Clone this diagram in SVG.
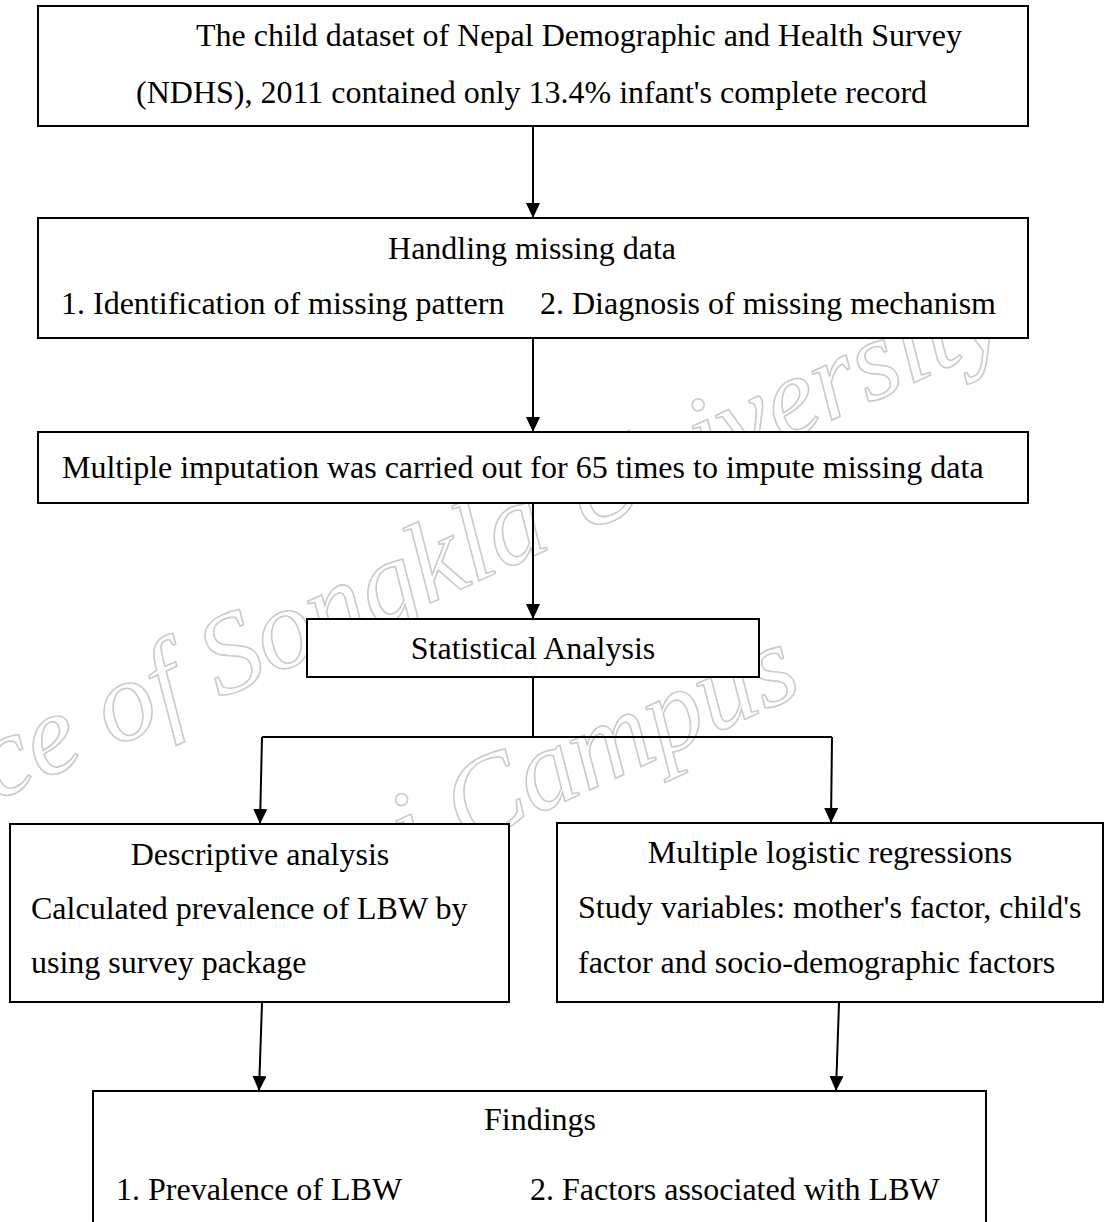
<svg xmlns="http://www.w3.org/2000/svg" width="1106" height="1222" viewBox="0 0 1106 1222">
  <style>
    .box { fill: #ffffff; stroke: #000000; stroke-width: 2; }
    .t { font-family: "Liberation Serif", "Times New Roman", serif; font-size: 32px; fill: #000000; }
    .c { text-anchor: middle; }
    .wire { fill: none; stroke: #000000; stroke-width: 2; }
    .wm { font-family: "Liberation Serif", serif; font-style: italic; font-size: 114px; fill: none; stroke: #cacaca; stroke-width: 1.6; }
  </style>
  <defs>
    <marker id="ah" markerWidth="15" markerHeight="14" refX="15" refY="7" orient="auto" markerUnits="userSpaceOnUse">
      <path d="M0,0 L15,7 L0,14 z" fill="#000000"/>
    </marker>
  </defs>

  <rect width="1106" height="1222" fill="#ffffff"/>

  <!-- background watermark, partly covered by the boxes -->
  <g id="watermark">
    <text class="wm" text-anchor="end" transform="translate(1012,338) rotate(-24.5)">ce of Songkla University</text>
    <text class="wm" text-anchor="end" transform="translate(805,692) rotate(-24.5)">tani Campus</text>
  </g>

  <!-- connectors -->
  <g id="connectors">
    <line class="wire" x1="533" y1="126" x2="533" y2="218" marker-end="url(#ah)"/>
    <line class="wire" x1="533" y1="338" x2="533" y2="432" marker-end="url(#ah)"/>
    <line class="wire" x1="533" y1="503" x2="533" y2="619" marker-end="url(#ah)"/>
    <polyline class="wire" points="533,677 533,737"/>
    <polyline class="wire" points="262,737 832,737"/>
    <line class="wire" x1="262" y1="737" x2="260" y2="824" marker-end="url(#ah)"/>
    <line class="wire" x1="832" y1="737" x2="831" y2="823" marker-end="url(#ah)"/>
    <line class="wire" x1="262" y1="1003" x2="259" y2="1091" marker-end="url(#ah)"/>
    <line class="wire" x1="839" y1="1003" x2="836" y2="1091" marker-end="url(#ah)"/>
  </g>

  <g id="node-dataset">
    <rect class="box" x="38" y="6" width="990" height="120"/>
    <text class="t" x="196" y="46">The child dataset of Nepal Demographic and Health Survey</text>
    <text class="t" x="136" y="103">(NDHS), 2011 contained only 13.4% infant's complete record</text>
  </g>

  <g id="node-missing">
    <rect class="box" x="38" y="218" width="990" height="120"/>
    <text class="t c" x="532" y="259">Handling missing data</text>
    <text class="t" x="61" y="314">1. Identification of missing pattern</text>
    <text class="t" x="540" y="314">2. Diagnosis of missing mechanism</text>
  </g>

  <g id="node-imputation">
    <rect class="box" x="38" y="432" width="990" height="71"/>
    <text class="t" x="62" y="478">Multiple imputation was carried out for 65 times to impute missing data</text>
  </g>

  <g id="node-statistical">
    <rect class="box" x="307" y="619" width="452" height="58"/>
    <text class="t c" x="533" y="659">Statistical Analysis</text>
  </g>

  <g id="node-descriptive">
    <rect class="box" x="10" y="824" width="499" height="178"/>
    <text class="t c" x="260" y="865">Descriptive analysis</text>
    <text class="t" x="31" y="919">Calculated prevalence of LBW by</text>
    <text class="t" x="31" y="973">using survey package</text>
  </g>

  <g id="node-logistic">
    <rect class="box" x="557" y="823" width="546" height="179"/>
    <text class="t c" x="830" y="863">Multiple logistic regressions</text>
    <text class="t" x="578" y="918">Study variables: mother's factor, child's</text>
    <text class="t" x="578" y="973">factor and socio-demographic factors</text>
  </g>

  <g id="node-findings">
    <rect class="box" x="93" y="1091" width="893" height="160"/>
    <text class="t c" x="540" y="1130">Findings</text>
    <text class="t" x="116" y="1200">1. Prevalence of LBW</text>
    <text class="t" x="530" y="1200">2. Factors associated with LBW</text>
  </g>
</svg>
